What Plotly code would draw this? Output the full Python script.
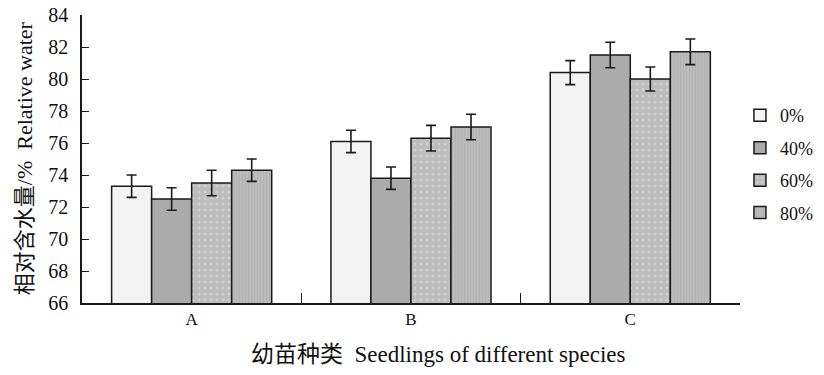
import plotly.graph_objects as go

categories = ["A", "B", "C"]
series_names = ["0%", "40%", "60%", "80%"]
values = {
    "0%": [73.3, 76.1, 80.4],
    "40%": [72.5, 73.8, 81.5],
    "60%": [73.5, 76.3, 80.0],
    "80%": [74.3, 77.0, 81.7],
}
errors = {
    "0%": [0.7, 0.7, 0.75],
    "40%": [0.7, 0.7, 0.8],
    "60%": [0.8, 0.8, 0.75],
    "80%": [0.7, 0.8, 0.8],
}
y_ticks = [66, 68, 70, 72, 74, 76, 78, 80, 82, 84]
x_title = "幼苗种类  Seedlings of different species"
y_title = "相对含水量/%  Relative water"

styles = {
    "0%": dict(color="#f3f3f3", pattern=dict(shape="")),
    "40%": dict(color="#ababab", pattern=dict(shape="")),
    "60%": dict(color="#c2c2c2", pattern=dict(shape=".", fgcolor="#e2e2e2", bgcolor="#bdbdbd", size=6, solidity=0.2)),
    "80%": dict(color="#b5b5b5", pattern=dict(shape="|", fgcolor="#a8a8a8", bgcolor="#bcbcbc", size=3, solidity=0.35)),
}

fig = go.Figure()
for name in series_names:
    st = styles[name]
    fig.add_trace(go.Bar(
        x=categories, y=values[name], name=name,
        marker=dict(color=st["color"], pattern=st["pattern"],
                    line=dict(color="#1a1a1a", width=1.5)),
        error_y=dict(type="data", array=errors[name], color="#1a1a1a",
                     thickness=1.6, width=5),
        legendgroup=name,
    ))

fig.update_layout(
    width=824, height=375,
    margin=dict(l=82, r=82, t=15, b=72),
    paper_bgcolor="white", plot_bgcolor="white",
    barmode="group", bargap=0.27, bargroupgap=0,
    font=dict(family="Liberation Serif, Noto Sans CJK SC", color="#111", size=16),
    showlegend=True,
    legend=dict(xref="container", yref="container", x=0.898, y=0.741,
                xanchor="left", yanchor="top",
                font=dict(size=18, family="Liberation Serif"),
                tracegroupgap=6, traceorder="grouped", itemwidth=30,
                bgcolor="rgba(0,0,0,0)"),
    xaxis=dict(
        automargin=False,
        showline=True, linecolor="#1a1a1a", linewidth=1.5,
        ticks="inside", tickson="boundaries", ticklen=10, tickcolor="#1a1a1a",
        tickfont=dict(size=17, family="Liberation Serif"),
        showgrid=False,
    ),
    yaxis=dict(
        automargin=False,
        range=[66, 84], tickvals=y_ticks,
        showline=True, linecolor="#1a1a1a", linewidth=1.5,
        ticks="inside", ticklen=7, tickcolor="#1a1a1a",
        ticklabelstandoff=8, ticklabeloverflow="allow",
        tickfont=dict(size=20, family="Liberation Serif"),
        showgrid=False, zeroline=False,
    ),
    annotations=[
        dict(text=x_title, xref="paper", yref="paper", x=0.542, y=-0.18,
             xanchor="center", yanchor="middle", showarrow=False,
             font=dict(size=23, family="Liberation Serif, Noto Sans CJK SC", color="#111")),
        dict(text=y_title, xref="paper", yref="paper", x=-0.088, y=0.503,
             xanchor="center", yanchor="middle", showarrow=False, textangle=-90,
             font=dict(size=22, family="Liberation Serif, Noto Sans CJK SC", color="#111")),
    ],
)

fig.write_html("out.html", config={"displayModeBar": False},
               post_script="document.body.style.margin='0px';")
